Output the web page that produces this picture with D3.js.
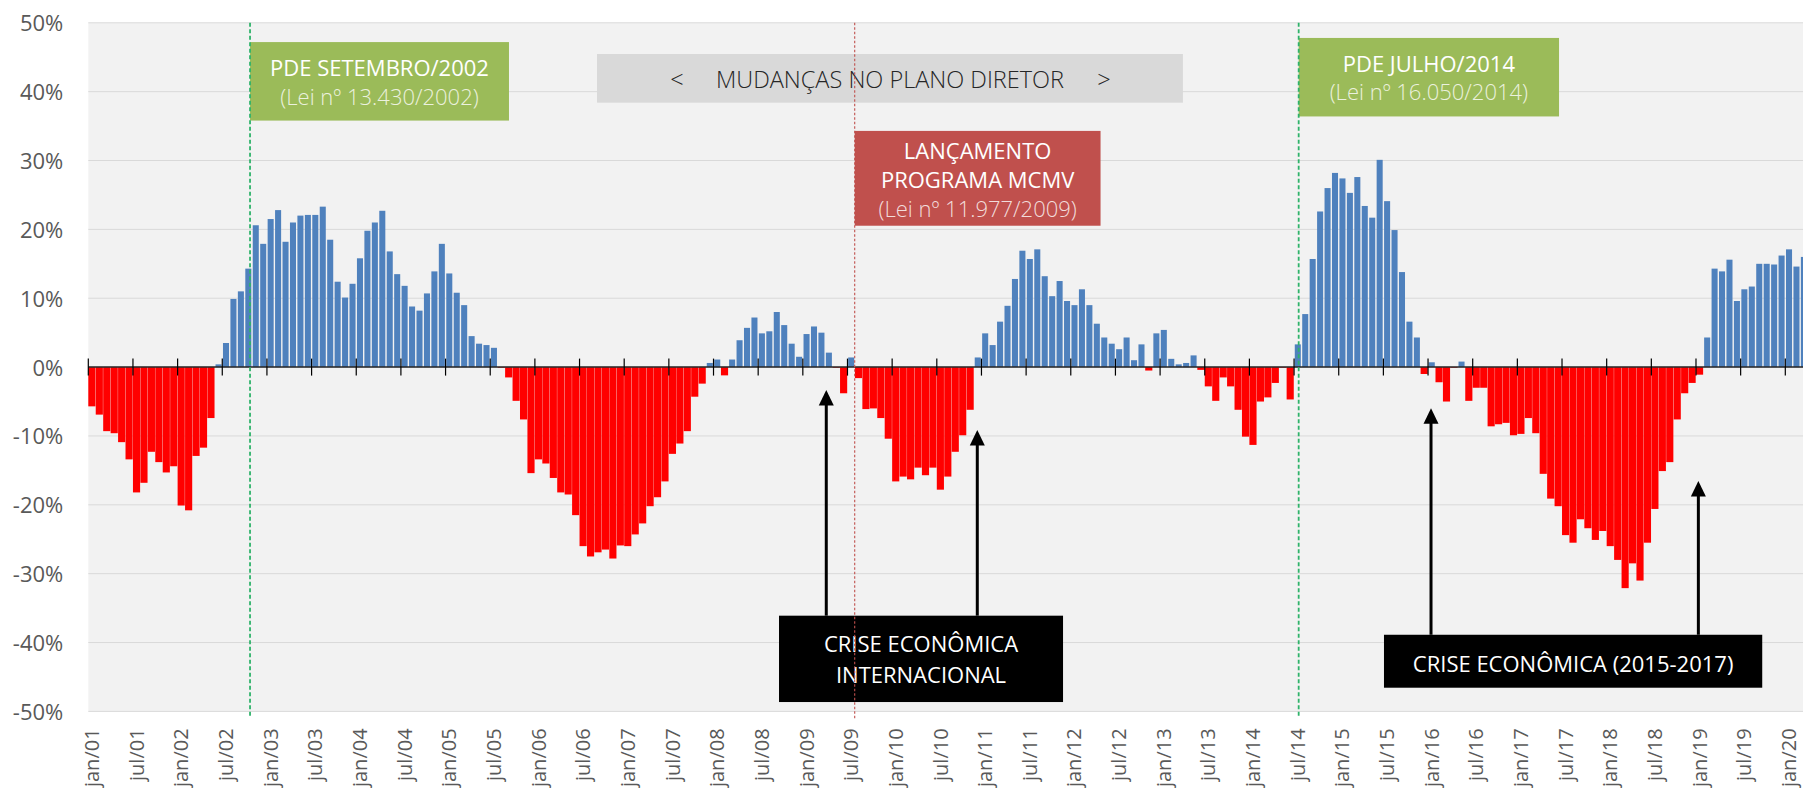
<!DOCTYPE html>
<html>
<head>
<meta charset="utf-8">
<script src="https://cdn.jsdelivr.net/npm/d3@7"></script>
<style>
  body { margin: 0; background: #fff; }
  svg { display: block; font-family: 'Open Sans', 'Noto Sans', sans-serif; }
</style>
</head>
<body>
<svg id="chart" width="1803" height="794"></svg>
<script>

// month names (pt-BR) and years covered by the series
var monthNames = ['jan','fev','mar','abr','mai','jun','jul','ago','set','out','nov','dez'];
var firstYear = 2001;

// monthly variation (%), one array per year
var y2001 = [-5.7, -6.9, -9.3, -9.6, -10.9, -13.4, -18.2, -16.8, -12.3, -13.8, -15.3, -14.4];
var y2002 = [-20.1, -20.8, -12.9, -11.7, -7.4, 0.4, 3.5, 9.9, 11.0, 14.3, 20.6, 17.9];
var y2003 = [21.5, 22.8, 18.2, 21.0, 22.0, 22.1, 22.1, 23.3, 18.5, 12.4, 10.1, 12.1];
var y2004 = [15.8, 19.8, 21.0, 22.7, 16.8, 13.5, 11.8, 8.8, 8.2, 10.7, 13.9, 17.9];
var y2005 = [13.6, 10.8, 9.0, 4.5, 3.4, 3.2, 2.8, -0.1, -1.5, -4.9, -7.6, -15.4];
var y2006 = [-13.4, -14.0, -16.1, -18.2, -18.5, -21.5, -26.0, -27.5, -26.9, -26.5, -27.8, -25.9];
var y2007 = [-26.0, -24.3, -22.7, -20.2, -18.9, -16.6, -12.6, -11.1, -9.3, -4.3, -2.4, 0.6];
var y2008 = [1.1, -1.2, 1.1, 3.9, 5.7, 7.2, 4.9, 5.2, 8.0, 6.1, 3.4, 1.5];
var y2009 = [4.8, 5.9, 5.0, 2.1, -0.1, -3.8, 1.4, -1.6, -6.1, -6.0, -7.4, -10.4];
var y2010 = [-16.6, -15.9, -16.3, -14.6, -15.7, -14.6, -17.8, -15.9, -12.3, -9.9, -6.2, 1.4];
var y2011 = [4.9, 3.2, 6.6, 8.9, 12.8, 16.9, 15.7, 17.1, 13.2, 10.3, 12.5, 9.6];
var y2012 = [9.0, 11.3, 9.0, 6.3, 4.3, 3.4, 2.6, 4.3, 1.0, 3.3, -0.5, 4.9];
var y2013 = [5.4, 1.2, 0.4, 0.6, 1.7, -0.4, -2.8, -4.9, -1.5, -2.8, -6.2, -10.1];
var y2014 = [-11.3, -5.0, -4.4, -2.3, -0.1, -4.7, 3.3, 7.7, 15.7, 22.6, 26.0, 28.2];
var y2015 = [27.4, 25.3, 27.6, 23.4, 21.7, 30.1, 24.1, 19.9, 13.8, 6.6, 4.3, -1.0];
var y2016 = [0.7, -2.2, -5.0, -0.1, 0.8, -4.9, -3.0, -3.0, -8.6, -8.3, -8.1, -9.9];
var y2017 = [-9.7, -7.4, -9.6, -15.5, -19.1, -20.2, -24.4, -25.5, -22.1, -23.4, -25.1, -23.8];
var y2018 = [-26.0, -28.0, -32.1, -28.5, -31.0, -25.5, -20.6, -15.1, -13.8, -7.6, -3.8, -2.3];
var y2019 = [-1.1, 4.3, 14.3, 13.9, 15.6, 9.6, 11.3, 11.7, 15.0, 15.0, 14.9, 16.2];
var y2020 = [17.1, 14.6, 16.0];

var yearly = [y2001, y2002, y2003, y2004, y2005, y2006, y2007, y2008, y2009, y2010,
              y2011, y2012, y2013, y2014, y2015, y2016, y2017, y2018, y2019, y2020];

// y axis tick values (%)
var yTicks = [-50, -40, -30, -20, -10, 0, 10, 20, 30, 40, 50];

// build month categories from the yearly arrays
var data = [];
yearly.forEach(function(vals, k) {
  var yy = String(firstYear + k).slice(2);
  vals.forEach(function(v, m) {
    data.push({ month: monthNames[m] + '/' + yy, value: v });
  });
});
var months = data.map(d => d.month);
// labels and ticks every 6 months (jan / jul)
var labelMonths = months.filter((m, i) => i % 6 == 0);
var tickIdx = d3.range(0, months.length, 6);

var svg = d3.select('#chart');
var W = 1803;
var plotLeft = 88.3, plotTop = 22.8, plotBottom = 711.4, step = 7.443;

var x = d3.scaleBand()
          .domain(months)
          .range([plotLeft, plotLeft + months.length * step])
          .padding(0);
// fractional month index -> px, for annotations
var xi = d3.scaleLinear()
           .domain([0, months.length])
           .range(x.range());
var y = d3.scaleLinear()
          .domain([-50, 50])
          .range([plotBottom, plotTop]);

// plot background
svg.append('rect')
   .attr('x', plotLeft).attr('y', plotTop)
   .attr('width', W - plotLeft).attr('height', plotBottom - plotTop)
   .attr('fill', '#f2f2f2');

// gridlines
svg.append('g')
   .selectAll('line')
   .data(yTicks)
   .enter()
   .append('line')
   .attr('x1', plotLeft).attr('x2', W)
   .attr('y1', d => y(d)).attr('y2', d => y(d))
   .attr('stroke', '#d9d9d9')
   .attr('stroke-width', 1);

// y labels
var yAxis = svg.append('g')
   .attr('transform', `translate(${plotLeft},0)`)
   .call(d3.axisLeft(y).tickValues(yTicks).tickSize(0).tickPadding(25).tickFormat(d => d + '%'));
yAxis.select('.domain').remove();
yAxis.selectAll('text')
   .attr('dy', '0.36em')
   .style('font-size', '22px')
   .style('font-family', "'Open Sans', sans-serif")
   .attr('fill', '#595959');

// bars
svg.append('g')
   .selectAll('rect')
   .data(data)
   .enter()
   .append('rect')
   .attr('x', d => d.value >= 0 ? x(d.month) + 0.7 : x(d.month))
   .attr('width', d => d.value >= 0 ? x.bandwidth() - 1.4 : x.bandwidth() - 0.3)
   .attr('y', d => y(Math.max(0, d.value)))
   .attr('height', d => Math.abs(y(d.value) - y(0)))
   .attr('fill', d => d.value >= 0 ? '#4f81bd' : '#ff0000');

// zero line + crossing ticks
svg.append('line')
   .attr('x1', plotLeft).attr('x2', W)
   .attr('y1', y(0)).attr('y2', y(0))
   .attr('stroke', '#262626')
   .attr('stroke-width', 1.5);
svg.append('g')
   .selectAll('line')
   .data(tickIdx)
   .enter()
   .append('line')
   .attr('x1', d => xi(d)).attr('x2', d => xi(d))
   .attr('y1', y(0) - 8.5).attr('y2', y(0) + 8.5)
   .attr('stroke', '#000')
   .attr('stroke-width', 1.2);

// x labels (rotated)
var xAxis = svg.append('g')
   .attr('transform', `translate(0,${plotBottom})`)
   .call(d3.axisBottom(x).tickValues(labelMonths).tickSize(0));
xAxis.select('.domain').remove();
xAxis.selectAll('text')
   .attr('transform', 'rotate(-90)')
   .attr('x', -17)
   .attr('y', 0)
   .attr('dy', '0.35em')
   .attr('text-anchor', 'end')
   .style('font-size', '20px')
   .style('font-family', "'Open Sans', sans-serif")
   .attr('fill', '#595959');

// annotation boxes (i = month index, v = value %)
var boxes = [
  { i0: 21.73, i1: 56.52, v0: 47.2, v1: 35.8, fill: '#9bbb59',
    lines: [{ t: 'PDE SETEMBRO/2002', dy: 34, c: '#ffffff', w: 400 },
            { t: '(Lei nº 13.430/2002)', dy: 62.5, c: '#ebf1de', w: 300 }] },
  { i0: 162.62, i1: 197.6, v0: 47.8, v1: 36.4, fill: '#9bbb59',
    lines: [{ t: 'PDE JULHO/2014', dy: 34, c: '#ffffff', w: 400 },
            { t: '(Lei nº 16.050/2014)', dy: 62.5, c: '#ebf1de', w: 300 }] },
  { i0: 68.35, i1: 147.07, v0: 45.47, v1: 38.4, fill: '#d9d9d9',
    lines: [{ t: 'MUDANÇAS NO PLANO DIRETOR', dy: 34, c: '#262626', w: 300, s: 23.5 },
            { t: '<', dy: 34, dx: -213, c: '#262626', w: 300, s: 23.5 },
            { t: '>', dy: 34, dx: 214, c: '#262626', w: 300, s: 23.5 }] },
  { i0: 102.97, i1: 136.0, v0: 34.3, v1: 20.53, fill: '#c0504d',
    lines: [{ t: 'LANÇAMENTO', dy: 28.3, c: '#ffffff', w: 400 },
            { t: 'PROGRAMA MCMV', dy: 57.3, c: '#ffffff', w: 400 },
            { t: '(Lei nº 11.977/2009)', dy: 85.7, c: '#f2dcdb', w: 300 }] },
  { i0: 92.8, i1: 130.96, v0: -36.1, v1: -48.64, fill: '#000000',
    lines: [{ t: 'CRISE ECONÔMICA', dy: 36.5, c: '#ffffff', w: 400 },
            { t: 'INTERNACIONAL', dy: 67, c: '#ffffff', w: 400 }] },
  { i0: 174.08, i1: 224.9, v0: -38.87, v1: -46.56, fill: '#000000',
    lines: [{ t: 'CRISE ECONÔMICA (2015-2017)', dy: 37, c: '#ffffff', w: 400 }] }
];

var bg = svg.append('g')
   .selectAll('g')
   .data(boxes)
   .enter()
   .append('g');
bg.append('rect')
   .attr('x', d => xi(d.i0))
   .attr('y', d => y(d.v0))
   .attr('width', d => xi(d.i1) - xi(d.i0))
   .attr('height', d => y(d.v1) - y(d.v0))
   .attr('fill', d => d.fill);
bg.each(function(d) {
  var cx = (xi(d.i0) + xi(d.i1)) / 2;
  d3.select(this).selectAll('text')
    .data(d.lines)
    .enter()
    .append('text')
    .attr('x', l => cx + (l.dx || 0))
    .attr('y', l => y(d.v0) + l.dy)
    .attr('text-anchor', 'middle')
    .style('font-size', l => (l.s || 22) + 'px')
    .style('font-weight', l => l.w)
    .attr('fill', l => l.c)
    .text(l => l.t);
});

// dotted reference lines
var refLines = [
  { i: 21.73, color: '#2fb36a', w: 1.8, dash: '4,2.5' },
  { i: 162.62, color: '#2fb36a', w: 1.8, dash: '4,2.5' },
  { i: 102.97, color: '#c0504d', w: 1.1, dash: '2.5,2' }
];
svg.append('g')
   .selectAll('line')
   .data(refLines)
   .enter()
   .append('line')
   .attr('x1', d => xi(d.i)).attr('x2', d => xi(d.i))
   .attr('y1', y(50)).attr('y2', y(-51))
   .attr('stroke', d => d.color)
   .attr('stroke-width', d => d.w)
   .attr('stroke-dasharray', d => d.dash);

// arrows (tip value, base value)
var arrows = [
  { i: 99.15, tip: -3.33, base: -36.1 },
  { i: 119.44, tip: -9.13, base: -36.1 },
  { i: 180.4, tip: -5.98, base: -38.87 },
  { i: 216.32, tip: -16.54, base: -38.87 }
];
var ag = svg.append('g')
   .selectAll('g')
   .data(arrows)
   .enter()
   .append('g');
ag.append('line')
   .attr('x1', d => xi(d.i)).attr('x2', d => xi(d.i))
   .attr('y1', d => y(d.base)).attr('y2', d => y(d.tip) + 12)
   .attr('stroke', '#000')
   .attr('stroke-width', 3);
ag.append('path')
   .attr('d', d => {
     var ax = xi(d.i), ay = y(d.tip);
     return `M${ax},${ay} L${ax - 7.5},${ay + 15.5} L${ax + 7.5},${ay + 15.5} Z`;
   })
   .attr('fill', '#000');

</script>
</body>
</html>
